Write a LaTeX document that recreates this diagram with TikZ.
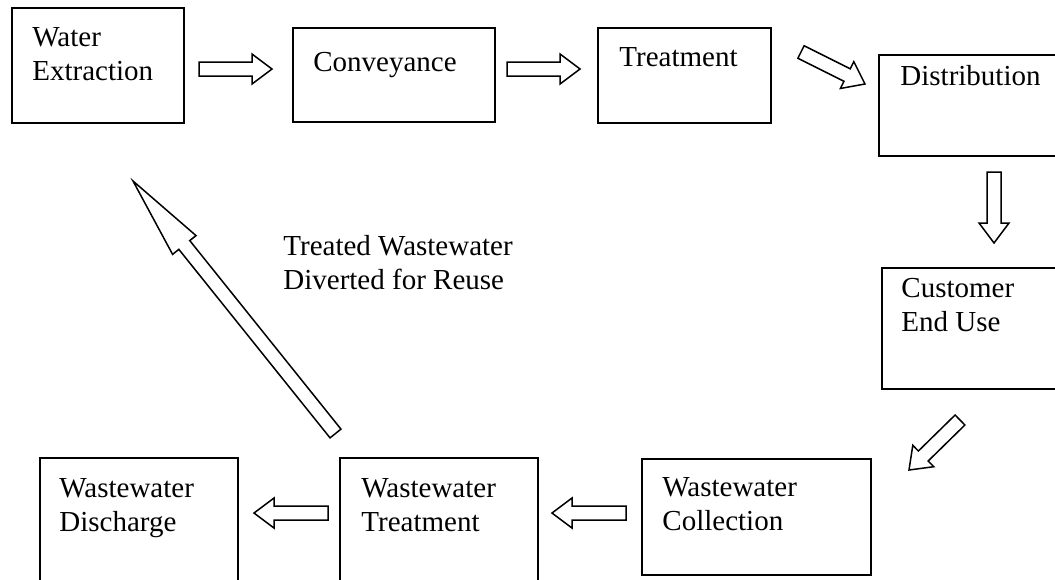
\documentclass[tikz,border=0pt]{standalone}
\usepackage{fontspec}
\setmainfont{Liberation Serif}
\usetikzlibrary{calc, positioning}

% hollow block arrow: [head length]{tail}{tip}
\newcommand{\blockarrow}[3][10pt]{%
  \path (#2) coordinate (ba_tail) (#3) coordinate (ba_tip);
  \path ($(ba_tip)!#1!(ba_tail)$) coordinate (ba_neck);
  \draw[flow_arrow] ($(ba_tail)!3.5pt!90:(ba_tip)$) -- ($(ba_neck)!3.5pt!90:(ba_tip)$)
    -- ($(ba_neck)!7.5pt!90:(ba_tip)$) -- (ba_tip)
    -- ($(ba_neck)!7.5pt!-90:(ba_tip)$) -- ($(ba_neck)!3.5pt!-90:(ba_tip)$)
    -- ($(ba_tail)!3.5pt!-90:(ba_tip)$) -- cycle;
}

\begin{document}
\begin{tikzpicture}[
        x=0.5pt, y=-0.5pt,
        stage_box/.style={rectangle, draw, line width=1pt, anchor=north west, inner sep=0pt},
        stage_text/.style={anchor=north west, inner sep=0pt, align=left, font=\fontsize{14.5}{17}\selectfont},
        flow_arrow/.style={draw, line width=0.75pt, fill=white, line join=miter}
    ]
    \useasboundingbox (0,0) rectangle (1055,579);
    \clip (0,0) rectangle (1055,579);

    % Supply chain (top and right)
    \node[stage_box, minimum width=86pt, minimum height=57.5pt] (extract) at (11,7) {};
    \node[stage_box, minimum width=101pt, minimum height=47pt] (convey) at (292,27) {};
    \node[stage_box, minimum width=86.5pt, minimum height=47.5pt] (treat) at (597,27) {};
    \node[stage_box, minimum width=92pt, minimum height=50.5pt] (distrib) at (878,54) {};
    \node[stage_box, minimum width=92pt, minimum height=60.5pt] (enduse) at (881,267) {};

    % Wastewater chain (bottom)
    \node[stage_box, minimum width=114.5pt, minimum height=58pt] (collect) at (641,458) {};
    \node[stage_box, minimum width=99pt, minimum height=66.5pt] (wwtreat) at (339,457) {};
    \node[stage_box, minimum width=99pt, minimum height=66.5pt] (discharge) at (39,457) {};

    % Box texts
    \node[stage_text] (extract_txt) at ($(extract.north west)+(21,20)$) {Water\\Extraction};
    \node[stage_text] (convey_txt) at ($(convey.north west)+(21,25)$) {Conveyance};
    \node[stage_text] (treat_txt) at ($(treat.north west)+(22,20)$) {Treatment};
    \node[stage_text] (distrib_txt) at ($(distrib.north west)+(22,11)$) {Distribution};
    \node[stage_text] (enduse_txt) at ($(enduse.north west)+(20,11)$) {Customer\\End Use};
    \node[stage_text] (collect_txt) at ($(collect.north west)+(21,19)$) {Wastewater\\Collection};
    \node[stage_text] (wwtreat_txt) at ($(wwtreat.north west)+(22,21)$) {Wastewater\\Treatment};
    \node[stage_text] (discharge_txt) at ($(discharge.north west)+(20,21)$) {Wastewater\\Discharge};
    \node[stage_text] (reuse_txt) at (283,235) {Treated Wastewater\\Diverted for Reuse};

    % Flow arrows
    \blockarrow{$(extract.east)+(14,3.5)$}{$(convey.west)+(-20,-6)$}
    \blockarrow{$(convey.east)+(11,-6)$}{$(treat.west)+(-17,-6.5)$}
    \blockarrow{$(treat.north east)+(29,25)$}{$(distrib.west)+(-13,-21.5)$}
    \blockarrow{$(distrib.south)+(23,15)$}{$(enduse.north)+(20,-24)$}
    \blockarrow{$(enduse.south west)+(79,30)$}{$(collect.north east)+(37,12)$}
    \blockarrow{$(collect.west)+(-15,-4)$}{$(wwtreat.east)+(13,-11.5)$}
    \blockarrow{$(wwtreat.west)+(-11,-11.5)$}{$(discharge.east)+(15,-11.5)$}

    % Reuse loop
    \blockarrow[41pt]{$(wwtreat.north)+(-103.5,-23.5)$}{$(extract.south)+(35,57)$}

\end{tikzpicture}
\end{document}
